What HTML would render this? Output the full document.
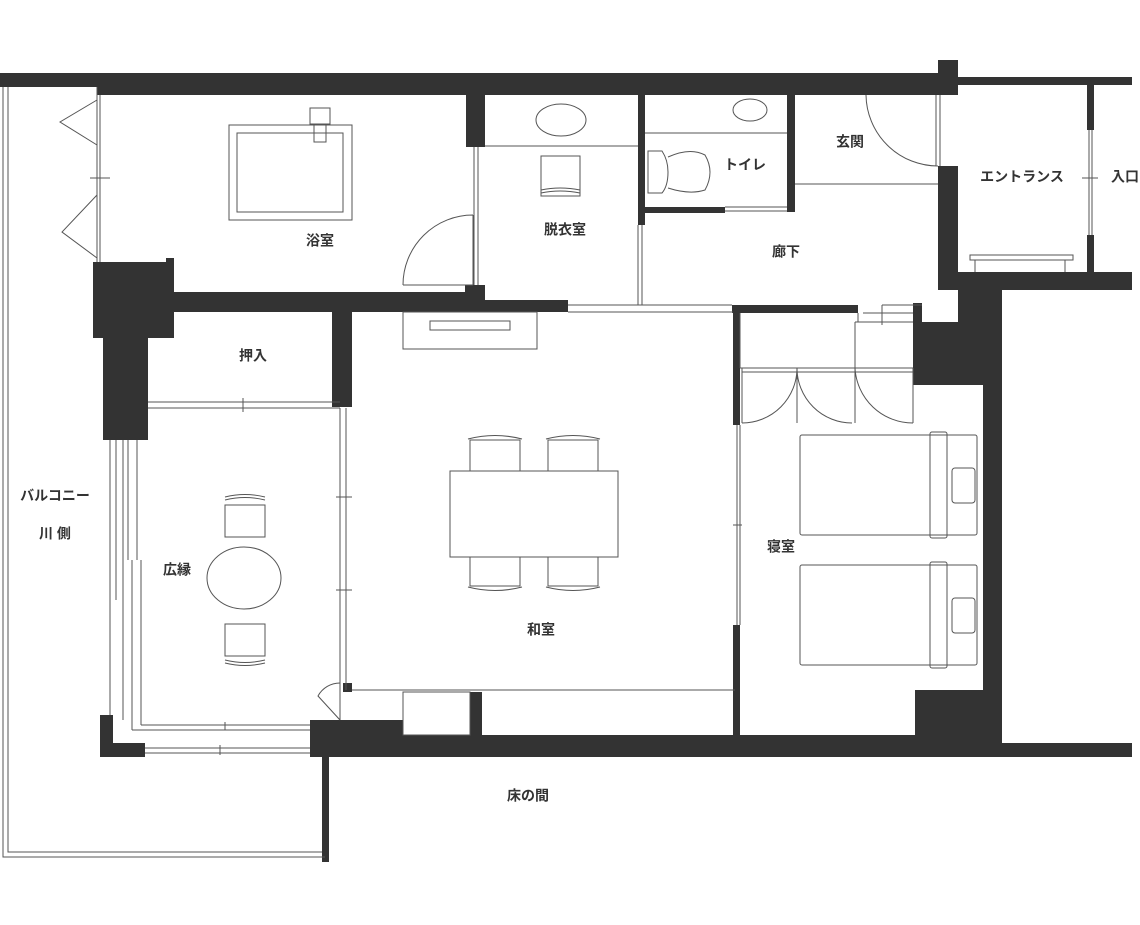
<!DOCTYPE html>
<html><head><meta charset="utf-8"><style>
html,body{margin:0;padding:0;background:#fff;}
svg{display:block;}
text{font-family:"Liberation Sans","Noto Sans CJK JP",sans-serif;font-size:14px;font-weight:bold;fill:#333;text-anchor:middle;dominant-baseline:middle;}
</style></head><body>
<svg width="1140" height="925" viewBox="0 0 1140 925" xmlns="http://www.w3.org/2000/svg">
<g fill="#333" stroke="none">
<rect x="0" y="73" width="97" height="14"/>
<rect x="97" y="73" width="861" height="22"/>
<rect x="938" y="60" width="20" height="35"/>
<rect x="958" y="77" width="174" height="8"/>
<rect x="1087" y="85" width="7" height="45"/>
<rect x="1087" y="235" width="7" height="40"/>
<rect x="958" y="272" width="174" height="18"/>
<rect x="938" y="166" width="20" height="124"/>
<rect x="958" y="272" width="44" height="113"/>
<rect x="913" y="322" width="45" height="63"/>
<rect x="983" y="290" width="19" height="467"/>
<rect x="915" y="690" width="87" height="67"/>
<rect x="1000" y="743" width="132" height="14"/>
<rect x="310" y="735" width="690" height="22"/>
<rect x="310" y="720" width="93" height="37"/>
<rect x="470" y="692" width="12" height="45"/>
<rect x="343" y="683" width="9" height="9"/>
<rect x="322" y="757" width="7" height="105"/>
<rect x="100" y="715" width="13" height="42"/>
<rect x="100" y="743" width="45" height="14"/>
<rect x="93" y="262" width="81" height="76"/>
<rect x="103" y="338" width="45" height="102"/>
<rect x="166" y="258" width="8" height="6"/>
<rect x="174" y="292" width="311" height="20"/>
<rect x="465" y="285" width="20" height="27"/>
<rect x="466" y="95" width="19" height="52"/>
<rect x="332" y="312" width="20" height="95"/>
<rect x="638" y="95" width="7" height="130"/>
<rect x="485" y="300" width="83" height="12"/>
<rect x="645" y="207" width="80" height="6"/>
<rect x="787" y="95" width="8" height="117"/>
<rect x="732" y="305" width="126" height="8"/>
<rect x="733" y="305" width="7" height="120"/>
<rect x="733" y="625" width="7" height="112"/>
<rect x="913" y="303" width="9" height="22"/>
</g>
<g fill="none" stroke="#555" stroke-width="1">
<path d="M3 87 V857 H325 M8 87 V852 H322"/>
<path d="M97 87 V262 M100 95 V262 M97 100 L60 122 L97 145 M97 195 L62 232 L97 258 M90 178 H110"/>
<rect x="229" y="125" width="123" height="95"/>
<rect x="237" y="133" width="106" height="79"/>
<rect x="310" y="108" width="20" height="16"/>
<rect x="314" y="124" width="12" height="18"/>
<path d="M474 147 V285 M478 147 V285 M403 285 H473 M473 215 V285 M403 285 A70 70 0 0 1 473 215"/>
<path d="M148 402 H340 M148 408 H340 M243 398 V412"/>
<path d="M340 408 V720 M346 408 V690 M336 497 H352 M336 590 H352"/>
<path d="M110 440 V715 M116 440 V600 M123 440 V720 M128 440 V560 M132 560 V730 M137 440 V560 M141 560 V725"/>
<path d="M141 725 H310 M132 730 H310 M145 748 H310 M145 753 H310 M225 722 V730 M220 745 V755"/>
<path d="M340 720 L318 696 A25 25 0 0 1 340 683"/>
<path d="M352 690 H735"/>
<rect x="403" y="692" width="67" height="43"/>
<rect x="225" y="505" width="40" height="32"/>
<path d="M225 497 Q245 492 265 497 M225 500 Q245 495 265 500"/>
<rect x="225" y="624" width="40" height="32"/>
<path d="M225 663 Q245 668 265 663 M225 660 Q245 665 265 660"/>
<ellipse cx="244" cy="578" rx="37" ry="31"/>
<rect x="450" y="471" width="168" height="86"/>
<rect x="470" y="440" width="50" height="31"/><path d="M468 439 Q495 432 522 439"/>
<rect x="548" y="440" width="50" height="31"/><path d="M546 439 Q573 432 600 439"/>
<rect x="470" y="557" width="50" height="29"/><path d="M468 587 Q495 594 522 587"/>
<rect x="548" y="557" width="50" height="29"/><path d="M546 587 Q573 594 600 587"/>
<rect x="403" y="312" width="134" height="37"/>
<rect x="430" y="321" width="80" height="9"/>
<path d="M485 146 H638"/>
<ellipse cx="561" cy="120" rx="25" ry="16"/>
<rect x="541" y="156" width="39" height="40"/>
<path d="M541 190 Q560 186 580 190 M541 193 Q560 189 580 193"/>
<path d="M638 225 V305 M642 225 V305 M568 305 H645 M568 312 H733 M645 305 H732"/>
<path d="M645 133 H787"/>
<ellipse cx="750" cy="110" rx="17" ry="11"/>
<path d="M648 151 H662 Q668 160 668 172 Q668 186 662 193 H648 Z M668 157 Q690 147 705 155 Q715 172 705 190 Q690 195 668 188"/>
<path d="M725 207 H787 M725 211 H787"/>
<path d="M795 184 H938 M936 95 V166 M940 95 V166 M866 95 A72 72 0 0 0 938 166"/>
<path d="M1089 130 V235 M1092 130 V235 M1082 178 H1098"/>
<rect x="970" y="255" width="103" height="5"/>
<path d="M975 260 V272 M1065 260 V272"/>
<path d="M863 313 H913 M882 305 V325 M882 305 H922 M858 313 V322 H913"/>
<path d="M740 313 V368 M740 368 H913 M855 322 V368 M855 322 H913 M742 372 H913 M742 368 V423 M913 368 V423 M855 368 V423"/>
<path d="M797 368 V423 M797 368 A55 55 0 0 1 742 423 M797 368 A55 55 0 0 0 852 423 M855 368 A58 58 0 0 0 913 423"/>
<path d="M737 425 V625 M740 425 V625 M733 525 H742"/>
<rect x="800" y="435" width="177" height="100" rx="2"/>
<rect x="930" y="432" width="17" height="106" rx="2"/>
<rect x="952" y="468" width="23" height="35" rx="3"/>
<rect x="800" y="565" width="177" height="100" rx="2"/>
<rect x="930" y="562" width="17" height="106" rx="2"/>
<rect x="952" y="598" width="23" height="35" rx="3"/>
</g>
<text x="320" y="242">浴室</text>
<text x="253" y="357">押入</text>
<text x="565" y="231">脱衣室</text>
<text x="745" y="166">トイレ</text>
<text x="850" y="143">玄関</text>
<text x="786" y="253">廊下</text>
<text x="1022" y="178">エントランス</text>
<text x="1125" y="178">入口</text>
<text x="55" y="497">バルコニー</text>
<text x="55" y="535">川 側</text>
<text x="177" y="571">広縁</text>
<text x="541" y="631">和室</text>
<text x="781" y="548">寝室</text>
<text x="528" y="797">床の間</text>
</svg>
</body></html>
